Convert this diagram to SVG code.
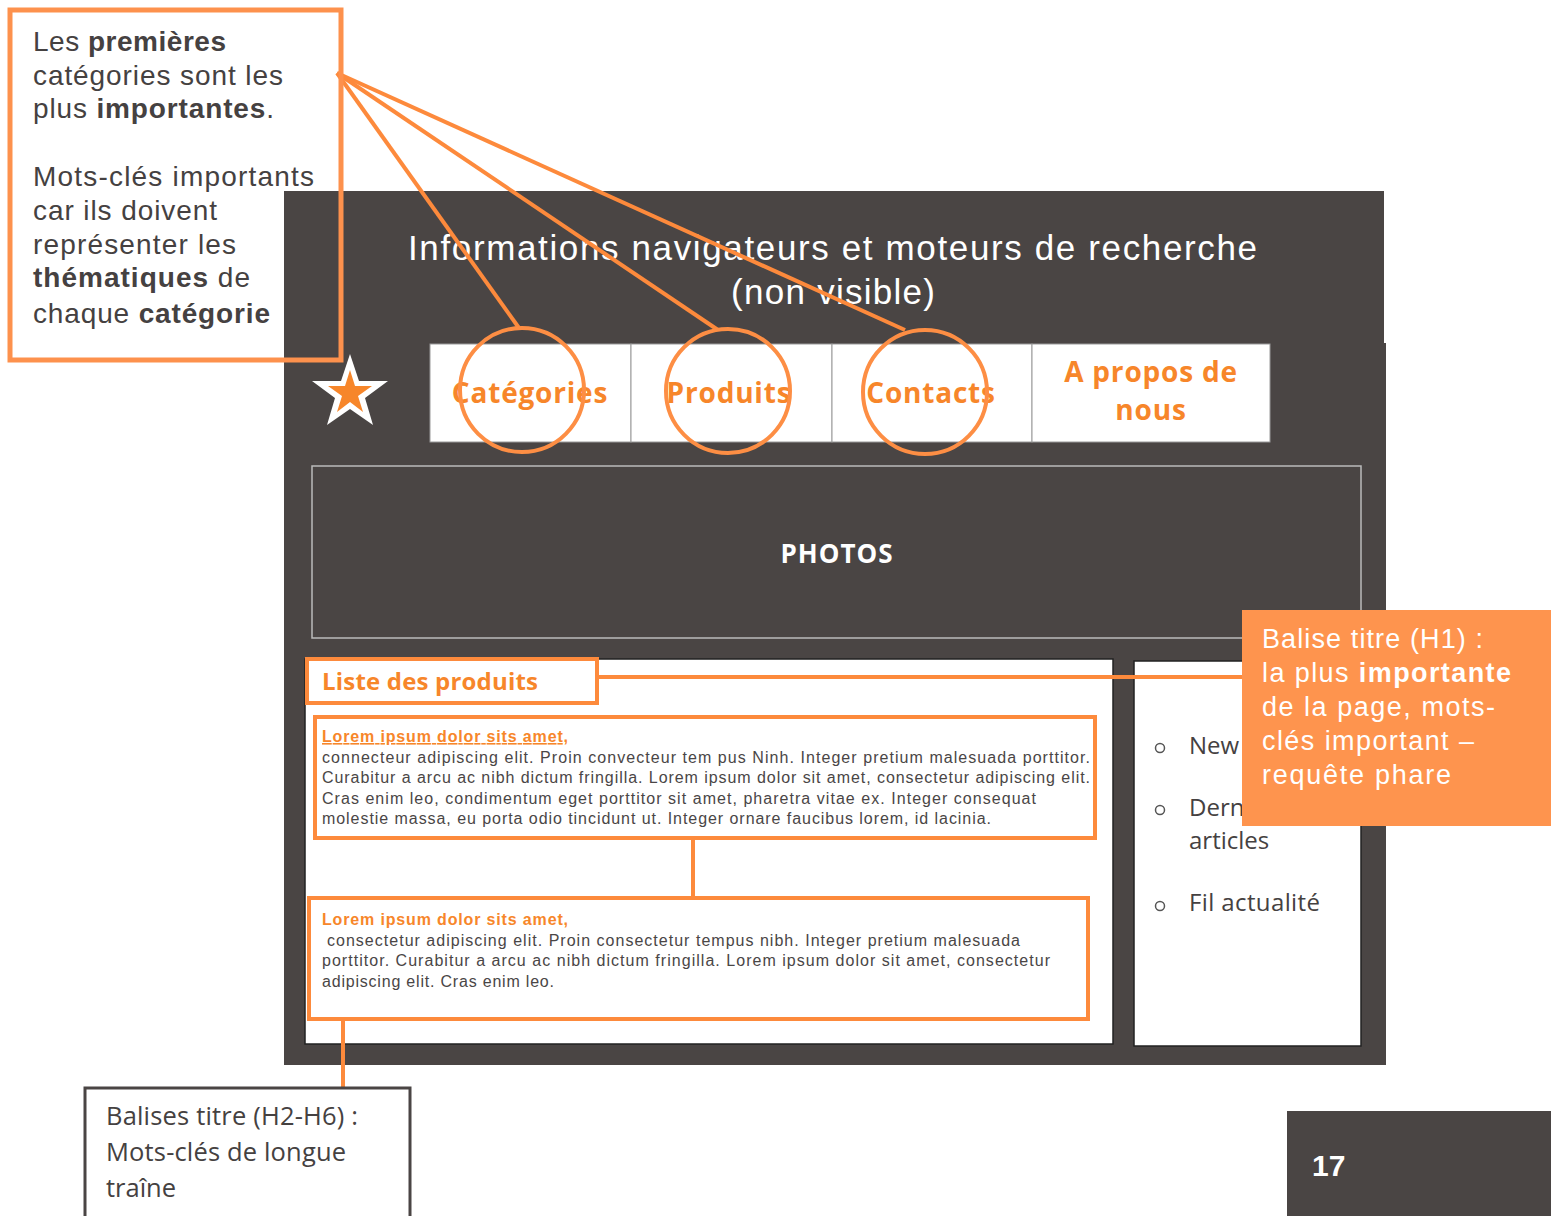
<svg xmlns="http://www.w3.org/2000/svg" width="1551" height="1216" viewBox="0 0 1551 1216">
<style>
.ui{font-family:"Open Sans","Noto Sans","Liberation Sans",sans-serif}
.ls{font-family:"Liberation Sans",Arial,sans-serif}
.note{font-family:"Liberation Sans",Arial,sans-serif;font-size:28px;fill:#454141}
.b{font-weight:bold}
.nav{font-family:"Open Sans","Noto Sans",sans-serif;font-size:28px;font-weight:bold;fill:#F7862A;text-anchor:middle;letter-spacing:0.8px}
.body{font-family:"Liberation Sans",Arial,sans-serif;font-size:16px;fill:#4a4646}
.lt{font-family:"Liberation Sans",Arial,sans-serif;font-size:16px;font-weight:bold;fill:#F7862A}
.ol{fill:none;stroke:#FD8A3C;stroke-width:4}
.conn{fill:none;stroke:#FD8A3C;stroke-width:4}
.circ{fill:none;stroke:#FD8E44;stroke-width:4}
.cell{fill:#fff;stroke:#999;stroke-width:1}
</style>
<rect width="1551" height="1216" fill="#fff"/>
<g id="page">
<rect x="284" y="191" width="1100" height="153" fill="#4a4544"/>
<rect x="284" y="343" width="1102" height="722" fill="#4a4544"/>
<text class="ls" x="408" y="260" font-size="35" fill="#fff" textLength="849">Informations navigateurs et moteurs de recherche</text>
<text class="ls" x="731" y="304" font-size="35" fill="#fff" textLength="204">(non visible)</text>
</g>
<g id="logo">
<polygon points="350,354 359,381 388,381 365,398 373,425 350,409 327,425 335,398 312,381 341,381" fill="#fff"/>
<polygon points="350,370 355,386 372,386 358,396 363,412 350,402 337,412 342,396 328,386 345,386" fill="#F7862A"/>
</g>
<g id="nav">
<rect class="cell" x="430" y="344" width="201" height="98"/>
<rect class="cell" x="631" y="344" width="201" height="98"/>
<rect class="cell" x="832" y="344" width="200" height="98"/>
<rect class="cell" x="1032" y="344" width="238" height="98"/>
<text class="nav" x="530" y="403">Catégories</text>
<text class="nav" x="729" y="403">Produits</text>
<text class="nav" x="931" y="403">Contacts</text>
<text class="nav" x="1151" y="382">A propos de</text>
<text class="nav" x="1151" y="420">nous</text>
</g>
<g id="photos">
<rect x="312" y="466" width="1049" height="172" fill="#4a4544" stroke="#bbb" stroke-width="1.5"/>
<text class="ui b" x="837" y="563" font-size="26" fill="#fff" text-anchor="middle" letter-spacing="1">PHOTOS</text>
</g>
<g id="content">
<rect x="305" y="659" width="808" height="385" fill="#fff" stroke="#222" stroke-width="1.5"/>
</g>
<g id="sidebar">
<rect x="1134" y="661" width="227" height="385" fill="#fff" stroke="#222" stroke-width="1.5"/>
<g class="ui" font-size="24" fill="#454141">
<circle cx="1160" cy="748" r="4.5" fill="none" stroke="#555" stroke-width="1.5"/>
<text x="1189" y="754">New</text>
<circle cx="1160" cy="810" r="4.5" fill="none" stroke="#555" stroke-width="1.5"/>
<text x="1189" y="816">Dern</text>
<text x="1189" y="849">articles</text>
<circle cx="1160" cy="906" r="4.5" fill="none" stroke="#555" stroke-width="1.5"/>
<text x="1189" y="911" textLength="131">Fil actualité</text>
</g>
</g>
<g id="h1">
<rect x="307" y="659" width="290" height="44" fill="#fff" stroke="#FD8A3C" stroke-width="4"/>
<text class="ui b" x="322" y="690" font-size="24" fill="#F7862A" textLength="216">Liste des produits</text>
</g>
<g id="article1">
<rect class="ol" x="315" y="717" width="780" height="121" fill="#fff"/>
<text class="lt" x="322" y="742" text-decoration="underline" textLength="246">Lorem ipsum dolor sits amet,</text>
<text class="body" x="322" y="763" textLength="768">connecteur adipiscing elit. Proin convecteur tem pus Ninh. Integer pretium malesuada porttitor.</text>
<text class="body" x="322" y="783" textLength="768">Curabitur a arcu ac nibh dictum fringilla. Lorem ipsum dolor sit amet, consectetur adipiscing elit.</text>
<text class="body" x="322" y="804" textLength="714">Cras enim leo, condimentum eget porttitor sit amet, pharetra vitae ex. Integer consequat</text>
<text class="body" x="322" y="824" textLength="669">molestie massa, eu porta odio tincidunt ut. Integer ornare faucibus lorem, id lacinia.</text>
</g>
<g id="article2">
<rect class="ol" x="309" y="898" width="779" height="121" fill="#fff"/>
<text class="lt" x="322" y="925" textLength="246">Lorem ipsum dolor sits amet,</text>
<text class="body" x="327" y="946" textLength="693">consectetur adipiscing elit. Proin consectetur tempus nibh. Integer pretium malesuada</text>
<text class="body" x="322" y="966" textLength="728">porttitor. Curabitur a arcu ac nibh dictum fringilla. Lorem ipsum dolor sit amet, consectetur</text>
<text class="body" x="322" y="987" textLength="232">adipiscing elit. Cras enim leo.</text>
</g>
<g id="connectors">
<line class="conn" x1="337" y1="73" x2="519" y2="328"/>
<line class="conn" x1="337" y1="73" x2="718" y2="330"/>
<line class="conn" x1="337" y1="73" x2="905" y2="330"/>
<line class="conn" x1="597" y1="677" x2="1242" y2="677"/>
<line class="conn" x1="693" y1="838" x2="693" y2="898"/>
<line class="conn" x1="343" y1="1019" x2="343" y2="1090"/>
</g>
<g id="circles">
<ellipse class="circ" cx="522" cy="390" rx="62" ry="62"/>
<ellipse class="circ" cx="728" cy="391" rx="62" ry="62"/>
<ellipse class="circ" cx="925" cy="392" rx="62" ry="62"/>
</g>
<g id="note-categories">
<rect x="10" y="10" width="331" height="350" fill="none" stroke="#FD914D" stroke-width="5"/>
<text class="note" x="33" y="51" textLength="193">Les <tspan class="b">premières</tspan></text>
<text class="note" x="33" y="85" textLength="250">catégories sont les</text>
<text class="note" x="33" y="118" textLength="241">plus <tspan class="b">importantes</tspan>.</text>
<text class="note" x="33" y="186" textLength="281">Mots-clés importants</text>
<text class="note" x="33" y="220" textLength="184">car ils doivent</text>
<text class="note" x="33" y="254" textLength="203">représenter les</text>
<text class="note" x="33" y="287" textLength="217"><tspan class="b">thématiques</tspan> de</text>
<text class="note" x="33" y="323" textLength="237">chaque <tspan class="b">catégorie</tspan></text>
</g>
<g id="note-h1">
<rect x="1242" y="610" width="309" height="216" fill="#FE944E"/>
<g class="ls" font-size="27" fill="#fff">
<text x="1262" y="648" textLength="221">Balise titre (H1) :</text>
<text x="1262" y="682" textLength="249">la plus <tspan font-weight="bold">importante</tspan></text>
<text x="1262" y="716" textLength="233">de la page,  mots-</text>
<text x="1262" y="750" textLength="212">clés important –</text>
<text x="1262" y="784" textLength="189">requête phare</text>
</g>
</g>
<g id="note-h2">
<rect x="85" y="1088" width="325" height="140" fill="#fff" stroke="#4a4544" stroke-width="3"/>
<g class="ui" font-size="25.5" fill="#454141">
<text x="106" y="1125" textLength="252">Balises titre (H2-H6) :</text>
<text x="106" y="1161" textLength="240">Mots-clés de longue</text>
<text x="106" y="1197">traîne</text>
</g>
</g>
<g id="page-number">
<rect x="1287" y="1111" width="264" height="105" fill="#4a4544"/>
<text x="1312" y="1176" font-family="Liberation Sans,Arial,sans-serif" font-size="30" font-weight="bold" fill="#fff">17</text>
</g>
</svg>
